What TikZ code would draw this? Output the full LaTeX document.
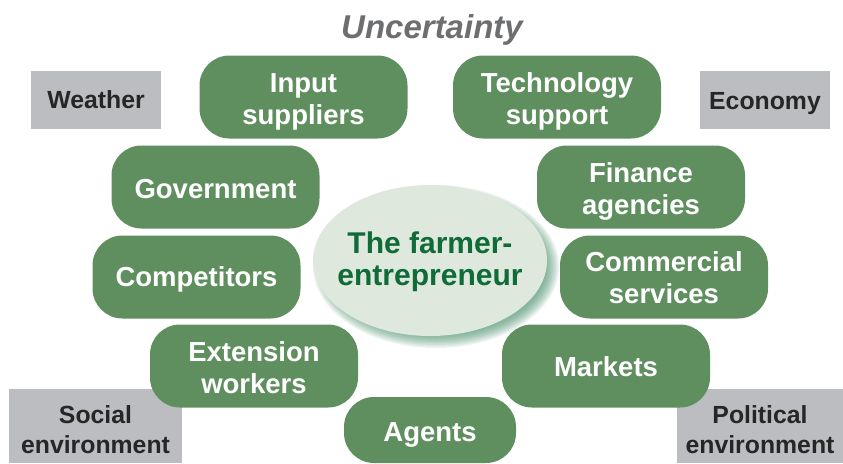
\documentclass[tikz,border=0pt]{standalone}
\usepackage{fontspec}
\setmainfont{Liberation Sans}
\usetikzlibrary{shapes.geometric}
\definecolor{pillg}{HTML}{5F8F5F}
\definecolor{greyb}{HTML}{BCBDC0}
\definecolor{ellf}{HTML}{DEE8DC}
\definecolor{ellt}{HTML}{0F6B38}
\definecolor{unc}{HTML}{6D6E70}
\definecolor{shad}{HTML}{2F7F55}
\newcommand{\tl}[1]{\rule{0pt}{#1pt}}
\tikzset{x=1pt,y=-1pt,
 pill/.style={draw=none,fill=pillg,rounded corners=30pt,text=white,font=\bfseries\fontsize{27.5}{32}\selectfont,align=center,inner sep=0pt,minimum height=83pt,minimum width=208pt},
 grey/.style={fill=greyb,font=\bfseries\fontsize{24.8}{30}\selectfont,text=black!85,align=center,inner sep=0pt}}
\begin{document}
\begin{tikzpicture}
\useasboundingbox (0,0) rectangle (843,463);
\node[grey,minimum width=130pt,minimum height=58pt] (w) at (96,100) {Weather};
\node[grey,minimum width=130pt,minimum height=58pt] (e) at (765,100) {\tl{24}Economy};
\node[grey,minimum width=173pt,minimum height=74pt] (s) at (95.5,426) {\tl{26}Social\\environment};
\node[grey,minimum width=166pt,minimum height=74pt] (p) at (760,426) {\tl{26}Political\\environment};
\node[pill] (a) at (303.5,97) {\tl{28}Input\\suppliers};
\node[pill] (b) at (557,97) {\tl{28}Technology\\support};
\node[pill] (c) at (215.5,187) {\tl{24}Government};
\node[pill] (d) at (641,187) {\tl{28}Finance\\agencies};
\node[pill] (f) at (196.5,277) {\tl{24}Competitors};
\node[pill] (g) at (664,277) {\tl{22}Commercial\\services};
\node[pill] (h) at (254,366) {\tl{23}Extension\\workers};
\node[pill] (i) at (606,366) {\tl{22}Markets};
\node[pill,minimum width=172pt,minimum height=66pt] (j) at (430,430) {\tl{28}Agents};
\foreach \r in {-6,-4.5,...,6}{
  \fill[shad,opacity=0.09] (436,266.5) ellipse [x radius=117+\r, y radius=75.5+\r];
}
\node[ellipse,fill=ellf,minimum width=234pt,minimum height=151pt,inner sep=0pt] (m) at (430,260.5) {};
\node[align=center,inner sep=0pt,text=ellt,font=\bfseries\fontsize{30}{32}\selectfont] (mt) at (430,261.5) {The farmer-\\entrepreneur};
\node[font=\bfseries\itshape\fontsize{33}{38}\selectfont,text=unc] (u) at (432,30) {Uncertainty};
\end{tikzpicture}
\end{document}
